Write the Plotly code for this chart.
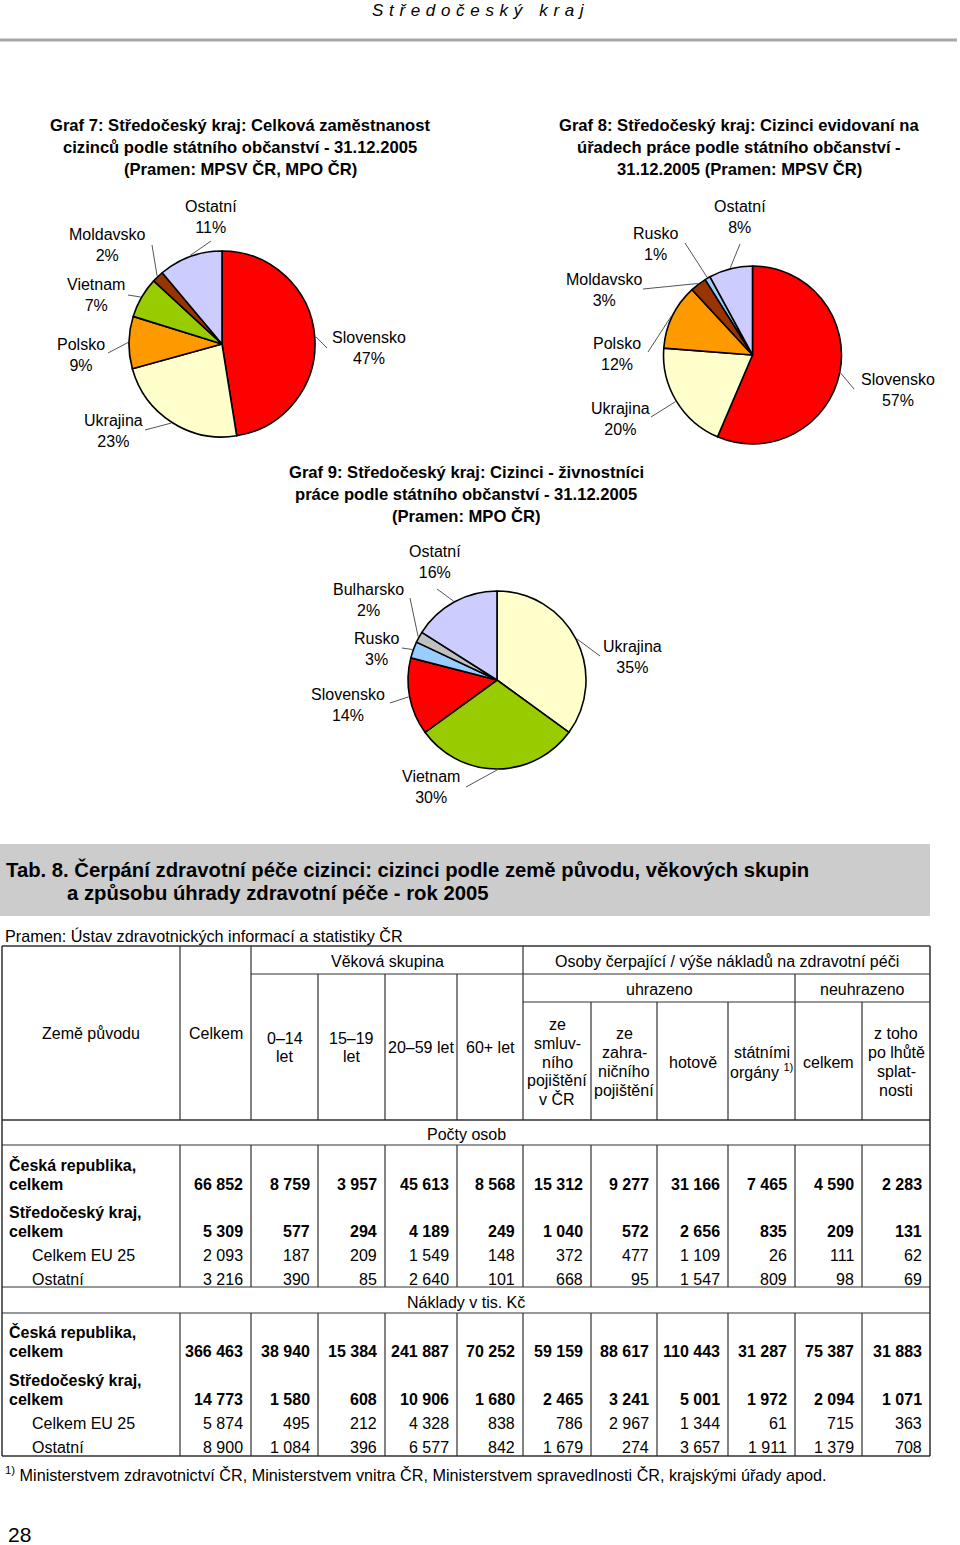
import math
import plotly.graph_objects as go

W, H = 960, 1545
FONT = "Liberation Sans, Arial, Helvetica, sans-serif"

# ---------------- data: pie charts ----------------
g7_labels = ["Slovensko", "Ukrajina", "Polsko", "Vietnam", "Moldavsko", "Ostatní"]
g7_values = [47, 23, 9, 7, 2, 11]

g8_labels = ["Slovensko", "Ukrajina", "Polsko", "Moldavsko", "Rusko", "Ostatní"]
g8_values = [57, 20, 12, 3, 1, 8]

g9_labels = ["Ukrajina", "Vietnam", "Slovensko", "Rusko", "Bulharsko", "Ostatní"]
g9_values = [35, 30, 14, 3, 2, 16]

COLORS = {
    "Slovensko": "#FF0000", "Ukrajina": "#FFFFCC", "Polsko": "#FF9900",
    "Vietnam": "#99CC00", "Moldavsko": "#993300", "Ostatní": "#CCCCFF",
    "Rusko": "#99CCFF", "Bulharsko": "#C0C0C0",
}

# ---------------- data: table ----------------
row_labels = [["Česká republika,", "celkem"], ["Středočeský kraj,", "celkem"],
              ["Celkem EU 25"], ["Ostatní"]]
row_bold = [True, True, False, False]

count_cz = [66852, 8759, 3957, 45613, 8568, 15312, 9277, 31166, 7465, 4590, 2283]
count_stc = [5309, 577, 294, 4189, 249, 1040, 572, 2656, 835, 209, 131]
count_eu = [2093, 187, 209, 1549, 148, 372, 477, 1109, 26, 111, 62]
count_ost = [3216, 390, 85, 2640, 101, 668, 95, 1547, 809, 98, 69]

cost_cz = [366463, 38940, 15384, 241887, 70252, 59159, 88617, 110443, 31287, 75387, 31883]
cost_stc = [14773, 1580, 608, 10906, 1680, 2465, 3241, 5001, 1972, 2094, 1071]
cost_eu = [5874, 495, 212, 4328, 838, 786, 2967, 1344, 61, 715, 363]
cost_ost = [8900, 1084, 396, 6577, 842, 1679, 274, 3657, 1911, 1379, 708]

col_headers = [
    ["Země původu"], ["Celkem"], ["0–14", "let"], ["15–19", "let"], ["20–59 let"], ["60+ let"],
    ["ze", "smluv-", "ního", "pojištění", "v ČR"], ["ze", "zahra-", "ničního", "pojištění"],
    ["hotově"], ["státními", "orgány <sup>1)</sup>"], ["celkem"],
    ["z toho", "po lhůtě", "splat-", "nosti"],
]

# ---------------- layout constants ----------------
col_edges = [2, 180, 251, 318, 385, 457, 523, 591, 657, 728, 795, 862, 930]
GRID = "#303030"

fig = go.Figure()
shapes = []
annotations = []


def seg(x0, y0, x1, y1, color=GRID, width=1.2):
    shapes.append(dict(type="line", xref="x", yref="y", x0=x0, y0=y0, x1=x1, y1=y1,
                       line=dict(color=color, width=width)))


def txt(x, y, lines, size=16, bold=False, anchor="center", spacing=None, italic=False,
        color="black"):
    if isinstance(lines, str):
        lines = [lines]
    if spacing is None:
        spacing = size * 1.2
    n = len(lines)
    for i, line in enumerate(lines):
        t = f"<b>{line}</b>" if bold else line
        if italic:
            t = f"<i>{t}</i>"
        annotations.append(dict(
            x=x, y=y + (i - (n - 1) / 2) * spacing, xref="x", yref="y", text=t,
            showarrow=False, xanchor=anchor, yanchor="middle", borderpad=0,
            font=dict(family=FONT, size=size, color=color)))


# ---------------- page header ----------------
sp = "\u2004"
header = sp.join("Středočeský") + sp * 3 + sp.join("kraj")
txt(478, 10, header, size=17, italic=True)
seg(0, 40, 957, 40, color="#A6A6A6", width=3)

# ---------------- chart titles ----------------
txt(240, 147, ["Graf 7: Středočeský kraj: Celková zaměstnanost",
               "cizinců podle státního občanství - 31.12.2005",
               "(Pramen: MPSV ČR, MPO ČR)"], size=16.6, bold=True, spacing=22)
txt(739, 147, ["Graf 8: Středočeský kraj: Cizinci evidovaní na",
               "úřadech práce podle státního občanství -",
               "31.12.2005 (Pramen: MPSV ČR)"], size=16.6, bold=True, spacing=22)
txt(466, 494, ["Graf 9: Středočeský kraj: Cizinci - živnostníci",
               "práce podle státního občanství - 31.12.2005",
               "(Pramen: MPO ČR)"], size=16.6, bold=True, spacing=22)

# ---------------- pies ----------------
PIES = [
    dict(labels=g7_labels, values=g7_values, cx=222, cy=344, r=93,
         text_pos=[(369, 347.5), (113, 430.5), (81, 354.5), (96, 294.5), (107, 245), (211, 216.5)],
         lead_end=[(327, 348), (145, 430), (108, 353), (128, 295), (152, 245), (211, 241)]),
    dict(labels=g8_labels, values=g8_values, cx=752.5, cy=355, r=89,
         text_pos=[(898, 389.5), (620, 418.5), (617, 353.5), (604, 290), (655, 243.5), (740, 217)],
         lead_end=[(854, 389), (651, 417), (648, 352), (643, 289), (685, 243), (740, 244)]),
    dict(labels=g9_labels, values=g9_values, cx=497, cy=680, r=89,
         text_pos=[(632, 656.5), (431, 786.5), (348, 704.5), (376, 648.5), (368, 599.5), (435, 561.5)],
         lead_end=[(600, 656), (466, 787), (390, 703), (402, 648), (410, 598), (437, 589)]),
]

for p in PIES:
    cx, cy, r = p["cx"], p["cy"], p["r"]
    fig.add_trace(go.Pie(
        labels=p["labels"], values=p["values"], sort=False, direction="clockwise",
        rotation=0, textinfo="none", hoverinfo="label+value",
        marker=dict(colors=[COLORS[l] for l in p["labels"]], line=dict(color="black", width=1.6)),
        domain=dict(x=[(cx - r) / W, (cx + r) / W], y=[1 - (cy + r) / H, 1 - (cy - r) / H]),
        showlegend=False,
    ))
    total = sum(p["values"])
    cum = 0
    for lab, v, (tx, ty), (ex, ey) in zip(p["labels"], p["values"], p["text_pos"], p["lead_end"]):
        th = 2 * math.pi * (cum + v / 2) / total
        cum += v
        sx, sy = cx + (r + 1) * math.sin(th), cy - (r + 1) * math.cos(th)
        seg(sx, sy, ex, ey, color="#555555", width=1)
        annotations.append(dict(
            x=tx, y=ty, xref="x", yref="y", text=f"{lab}<br>{v}%", showarrow=False,
            xanchor="center", yanchor="middle", align="center", borderpad=0,
            font=dict(family=FONT, size=16, color="black")))

# ---------------- table title ----------------
shapes.append(dict(type="rect", xref="x", yref="y", x0=0, y0=844, x1=930, y1=916,
                   fillcolor="#CCCCCC", line=dict(width=0), layer="below"))
txt(5, 869, "Tab. 8. Čerpání zdravotní péče cizinci: cizinci podle země původu, věkových skupin",
    size=20.3, bold=True, anchor="left")
txt(66, 893, "a způsobu úhrady zdravotní péče - rok 2005", size=20.3, bold=True, anchor="left")
txt(4, 936, "Pramen: Ústav zdravotnických informací a statistiky ČR", size=16.2, anchor="left")

# ---------------- table grid ----------------
T_TOP, T_BOT, L, R = 946, 1456, col_edges[0], col_edges[-1]
Y_AGE, Y_UHR, Y_HEAD, Y_SEC1, Y_SEC1B, Y_SEC2 = 974, 1002, 1120, 1145, 1287, 1313

seg(L, T_TOP, R, T_TOP, width=1.5)
seg(L, T_BOT, R, T_BOT, width=1.5)
seg(L, T_TOP, L, T_BOT, width=1.5)
seg(R, T_TOP, R, T_BOT, width=1.5)
seg(col_edges[2], Y_AGE, R, Y_AGE)
seg(col_edges[6], Y_UHR, R, Y_UHR)
seg(L, Y_HEAD, R, Y_HEAD, width=1.5)
seg(L, Y_SEC1, R, Y_SEC1)
seg(L, Y_SEC1B, R, Y_SEC1B)
seg(L, Y_SEC2, R, Y_SEC2)

head_vert_top = {1: T_TOP, 2: T_TOP, 3: Y_AGE, 4: Y_AGE, 5: Y_AGE, 6: T_TOP,
                 7: Y_UHR, 8: Y_UHR, 9: Y_UHR, 10: Y_AGE, 11: Y_UHR}
for i, top in head_vert_top.items():
    seg(col_edges[i], top, col_edges[i], Y_HEAD)
for i in range(1, len(col_edges) - 1):
    seg(col_edges[i], Y_SEC1, col_edges[i], Y_SEC1B)
    seg(col_edges[i], Y_SEC2, col_edges[i], T_BOT)

# header texts
txt((col_edges[2] + col_edges[6]) / 2, 961, "Věková skupina")
txt((col_edges[6] + R) / 2, 961, "Osoby čerpající / výše nákladů na zdravotní péči")
txt((col_edges[6] + col_edges[10]) / 2, 989, "uhrazeno")
txt((col_edges[10] + R) / 2, 989, "neuhrazeno")

head_center_y = [1033, 1033, 1047.5, 1047.5, 1047, 1047, 1062, 1062, 1062, 1061.5, 1062, 1062]
for i, lines in enumerate(col_headers):
    xc = (col_edges[i] + col_edges[i + 1]) / 2
    txt(xc, head_center_y[i], lines, size=16, spacing=18.7)

txt((L + R) / 2, 1134, "Počty osob")
txt((L + R) / 2, 1302, "Náklady v tis. Kč")

# data rows
sections = [
    ([count_cz, count_stc, count_eu, count_ost], [1184, 1231, 1255, 1279]),
    ([cost_cz, cost_stc, cost_eu, cost_ost], [1351, 1399, 1423, 1447]),
]
for rows, ys in sections:
    for labels, bold, vals, y in zip(row_labels, row_bold, rows, ys):
        if len(labels) == 2:
            txt(8, y - 19, labels[0], size=16, bold=bold, anchor="left")
            txt(8, y, labels[1], size=16, bold=bold, anchor="left")
        else:
            txt(31, y, labels[0], size=16, bold=bold, anchor="left")
        for j, v in enumerate(vals):
            s = f"{v:,}".replace(",", " ")
            txt(col_edges[j + 2] - 7, y, s, size=16, bold=bold, anchor="right")

# footnote & page number
txt(4, 1474, "<sup>1)</sup> Ministerstvem zdravotnictví ČR, Ministerstvem vnitra ČR, "
             "Ministerstvem spravedlnosti ČR, krajskými úřady apod.", size=16.2, anchor="left")
txt(7, 1534, "28", size=21, anchor="left")

fig.update_layout(
    width=W, height=H, margin=dict(l=0, r=0, t=0, b=0),
    paper_bgcolor="white", plot_bgcolor="white", showlegend=False,
    xaxis=dict(range=[0, W], visible=False, fixedrange=True, domain=[0, 1]),
    yaxis=dict(range=[H, 0], visible=False, fixedrange=True, domain=[0, 1]),
    shapes=shapes, annotations=annotations,
)

fig.write_html("out.html", config={"displayModeBar": False},
               post_script="document.body.style.margin='0';document.body.style.padding='0';")
